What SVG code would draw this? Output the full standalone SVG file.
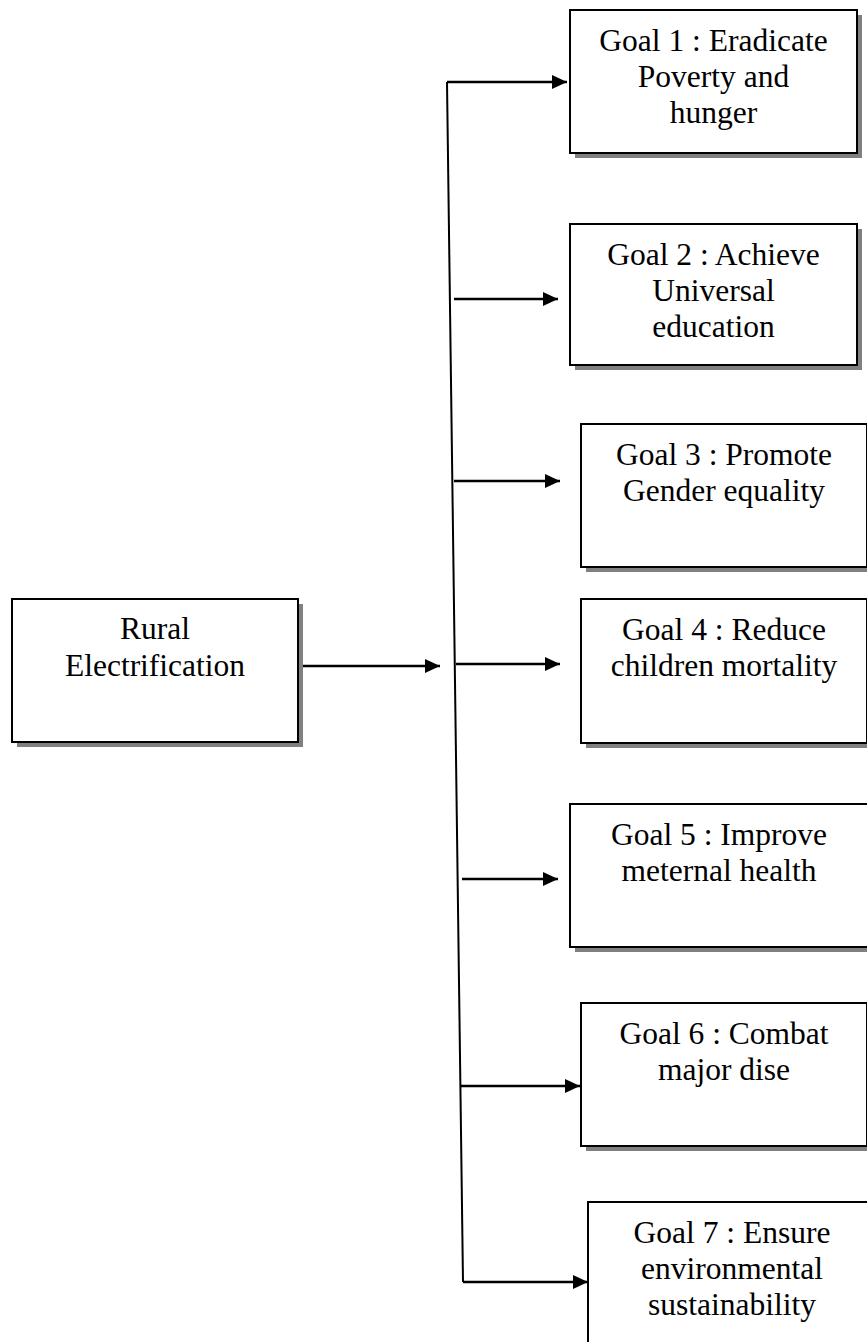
<svg xmlns="http://www.w3.org/2000/svg" width="867" height="1342" viewBox="0 0 867 1342">
<style>
.shadow{fill:#808080;stroke:none}
.box{fill:#fff;stroke:#000;stroke-width:2}
.t{font-family:"Liberation Serif","Times New Roman",Times,serif;font-size:31.5px;fill:#000;text-anchor:middle}
.c{fill:none;stroke:#000;stroke-width:2.5}
.v{fill:none;stroke:#000;stroke-width:2}
</style>
<defs>
<marker id="ah" markerUnits="userSpaceOnUse" markerWidth="16" markerHeight="14" refX="15" refY="7" orient="auto">
<path d="M0,0 L15,7 L0,14 z" fill="#000"/>
</marker>
</defs>
<rect width="867" height="1342" fill="#fff"/>
<g id="connectors">
<path class="v" d="M447,82 L463,1282"/>
<path class="c" d="M447,82 L567,82" marker-end="url(#ah)"/>
<path class="c" d="M454,299 L558,299" marker-end="url(#ah)"/>
<path class="c" d="M454,481 L560,481" marker-end="url(#ah)"/>
<path class="c" d="M456,664 L560,664" marker-end="url(#ah)"/>
<path class="c" d="M462,879 L558,879" marker-end="url(#ah)"/>
<path class="c" d="M461,1086 L580,1086" marker-end="url(#ah)"/>
<path class="c" d="M463,1282 L588,1282" marker-end="url(#ah)"/>
<path class="c" d="M300,666 L440,666" marker-end="url(#ah)"/>
</g>
<g id="rural">
<rect class="shadow" x="17" y="604" width="286" height="143"/>
<rect class="box" x="12" y="599" width="286" height="143"/>
<text class="t" x="155" y="639">Rural</text>
<text class="t" x="155" y="676">Electrification</text>
</g>
<g id="goal1">
<rect class="shadow" x="575" y="15" width="287" height="143"/>
<rect class="box" x="570" y="10" width="287" height="143"/>
<text class="t" x="713.5" y="51">Goal 1 : Eradicate</text>
<text class="t" x="713.5" y="87">Poverty and</text>
<text class="t" x="713.5" y="123">hunger</text>
</g>
<g id="goal2">
<rect class="shadow" x="575" y="229" width="287" height="141"/>
<rect class="box" x="570" y="224" width="287" height="141"/>
<text class="t" x="713.5" y="265">Goal 2 : Achieve</text>
<text class="t" x="713.5" y="301">Universal</text>
<text class="t" x="713.5" y="337">education</text>
</g>
<g id="goal3">
<rect class="shadow" x="586" y="429" width="286" height="143"/>
<rect class="box" x="581" y="424" width="286" height="143"/>
<text class="t" x="724" y="465">Goal 3 : Promote</text>
<text class="t" x="724" y="501">Gender equality</text>
</g>
<g id="goal4">
<rect class="shadow" x="586" y="604" width="286" height="144"/>
<rect class="box" x="581" y="599" width="286" height="144"/>
<text class="t" x="724" y="640">Goal 4 : Reduce</text>
<text class="t" x="724" y="676">children mortality</text>
</g>
<g id="goal5">
<rect class="shadow" x="575" y="809" width="298" height="143"/>
<rect class="box" x="570" y="804" width="298" height="143"/>
<text class="t" x="719" y="845">Goal 5 : Improve</text>
<text class="t" x="719" y="881">meternal health</text>
</g>
<g id="goal6">
<rect class="shadow" x="586" y="1008" width="286" height="143"/>
<rect class="box" x="581" y="1003" width="286" height="143"/>
<text class="t" x="724" y="1044">Goal 6 : Combat</text>
<text class="t" x="724" y="1080">major dise</text>
</g>
<g id="goal7">
<rect class="shadow" x="593" y="1207" width="288" height="150"/>
<rect class="box" x="588" y="1202" width="288" height="150"/>
<text class="t" x="732" y="1243">Goal 7 : Ensure</text>
<text class="t" x="732" y="1279">environmental</text>
<text class="t" x="732" y="1315">sustainability</text>
</g>
</svg>
